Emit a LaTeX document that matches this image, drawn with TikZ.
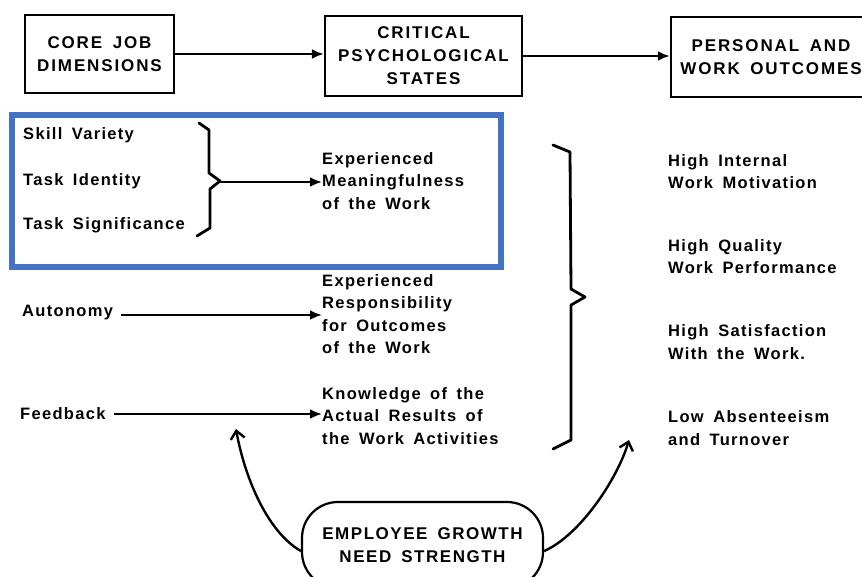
\documentclass[tikz,border=0pt]{standalone}
\usepackage{fontspec}
\setmainfont{Liberation Sans}[LetterSpace=8,WordSpace=1.6]
\usetikzlibrary{arrows.meta, positioning}
\definecolor{boxblue}{HTML}{4472C4}

\begin{document}
\begin{tikzpicture}[x=1pt,y=-1pt,
		every node/.style={inner sep=0pt},
		lbl/.style={anchor=west,align=left,font=\bfseries\fontsize{16.5}{22.5}\selectfont},
		hdr/.style={draw,line width=2.2pt,align=center,font=\bfseries\fontsize{17}{23}\selectfont\addfontfeatures{LetterSpace=11}},
		link/.style={line width=2.4pt,-{Latex[length=12pt,width=10pt]}},
		bow/.style={line width=2.4pt,-{Straight Barb[length=8pt,width=14pt]}},
		brc/.style={line width=2.8pt,line join=round,line cap=round}]
	
	\useasboundingbox (0,0) rectangle (862,576);
	
	% Header boxes
	\node[hdr,minimum width=149pt,minimum height=78pt] (core) at (99.5,54) {CORE JOB\\DIMENSIONS};
	\node[hdr,minimum width=197pt,minimum height=80pt] (crit) at (423.5,56) {CRITICAL\\PSYCHOLOGICAL\\STATES};
	\node[hdr,minimum width=200pt,minimum height=80pt] (pers) at (771,57) {PERSONAL AND\\WORK OUTCOMES};
	\draw[link] (core.east) -- (core.east -| crit.west);
	\draw[link] (crit.east) -- (crit.east -| pers.west);
	
	% Core job dimensions
	\node[lbl] (skill) at (23,135) {Skill Variety};
	\node[lbl] (ident) at (23,181) {Task Identity};
	\node[lbl] (signif) at (23,225) {Task Significance};
	\node[lbl] (auto) at (22,313) {Autonomy};
	\node[lbl] (feed) at (20,414) {Feedback};
	
	% Psychological states
	\node[lbl] (mean) at (322,181) {Experienced\\Meaningfulness\\of the Work};
	\node[lbl] (resp) at (322,314) {Experienced\\Responsibility\\for Outcomes\\of the Work};
	\node[lbl] (know) at (322,416) {Knowledge of the\\Actual Results of\\the Work Activities};
	
	% Outcomes
	\node[lbl] (motiv) at (668,171.5) {High Internal\\Work Motivation};
	\node[lbl] (perf) at (668,256.5) {High Quality\\Work Performance};
	\node[lbl] (satis) at (668,342) {High Satisfaction\\With the Work.};
	\node[lbl] (absent) at (668,428) {Low Absenteeism\\and Turnover};
	
	% Braces
	\draw[brc] (199,123) -- (209,130) -- (209,173) -- (220,181) -- (210,189) -- (210,228) -- (197,236);
	\coordinate (b1tip) at (220,182);
	\draw[brc] (553,145) -- (570,152) -- (571,289) -- (585,297) -- (571,305) -- (571,440) -- (553,449);
	
	% Dimension arrows
	\draw[link] (b1tip) -- (b1tip -| mean.west);
	\draw[link] ([xshift=8pt,yshift=-2pt]auto.east) -- ([yshift=-2pt]auto.east -| resp.west);
	\draw[link] ([xshift=8pt]feed.east) -- (feed.east -| know.west);
	
	% Growth need strength
	\node[draw,line width=2.2pt,rounded corners=36pt,minimum width=241pt,minimum height=86pt,
	align=center,font=\bfseries\fontsize{17}{23}\selectfont\addfontfeatures{LetterSpace=9}] (grow) at (422.5,545) {EMPLOYEE GROWTH\\NEED STRENGTH};
	\coordinate (lefttip) at (236,429);
	\coordinate (righttip) at (629,440);
	\draw[bow] ([yshift=-6pt]grow.west) .. controls +(-35,-20) and +(8,45) .. (lefttip);
	\draw[bow] ([yshift=-6pt]grow.east) .. controls +(35,-15) and +(-12,40) .. (righttip);
	
	% Highlight
	\draw[line width=6.5pt,draw=boxblue] (12,115) rectangle (501,267);
	
\end{tikzpicture}
\end{document}
